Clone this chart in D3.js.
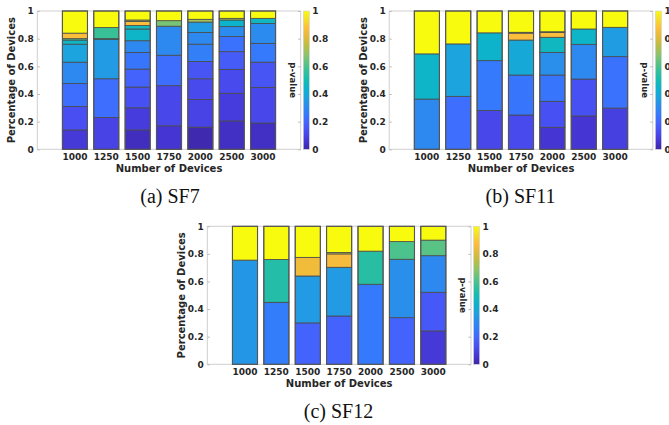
<!DOCTYPE html>
<html>
<head>
<meta charset="utf-8">
<script src="https://cdn.jsdelivr.net/npm/d3@7"></script>
<style>
  html, body { margin: 0; padding: 0; background: #fff; }
  svg { display: block; }
  .tick text, .lbl { font-family: "DejaVu Sans", sans-serif; font-weight: bold; fill: #262626; }
  .cap { font-family: "Liberation Serif", "Times New Roman", serif; fill: #111; }
</style>
</head>
<body>
<svg id="chart" width="669" height="425"></svg>
<script>
// ---------------- DATA ----------------
const categories = ["1000", "1250", "1500", "1750", "2000", "2500", "3000"];
const yTicks = [0, 0.2, 0.4, 0.6, 0.8, 1];
const colorbarTicks = [0, 0.2, 0.4, 0.6, 0.8, 1];
const yTickLabels = ["0", "0.2", "0.4", "0.6", "0.8", "1"];

// cumulative upper bounds of each stacked segment, per bar
const sf7Bounds = [
  [0.14, 0.31, 0.475, 0.63, 0.76, 0.79, 0.80, 0.84, 1.0],
  [0.23, 0.51, 0.795, 0.80, 0.88, 1.0],
  [0.14, 0.30, 0.45, 0.58, 0.70, 0.785, 0.87, 0.895, 0.925, 0.935, 1.0],
  [0.17, 0.46, 0.68, 0.89, 0.93, 1.0],
  [0.16, 0.36, 0.51, 0.635, 0.76, 0.845, 0.92, 0.94, 1.0],
  [0.205, 0.405, 0.578, 0.706, 0.815, 0.887, 0.935, 0.947, 1.0],
  [0.19, 0.448, 0.63, 0.766, 0.91, 0.947, 1.0]
];
// p-value (colour) of each segment
const sf7PValues = [
  [0.07, 0.13, 0.22, 0.30, 0.38, 0.46, 0.60, 0.87, 1.0],
  [0.10, 0.22, 0.35, 0.50, 0.57, 1.0],
  [0.03, 0.08, 0.14, 0.19, 0.24, 0.30, 0.45, 0.48, 0.87, 0.72, 1.0],
  [0.06, 0.11, 0.22, 0.30, 0.66, 1.0],
  [0.01, 0.10, 0.12, 0.15, 0.27, 0.30, 0.35, 0.72, 1.0],
  [0.04, 0.08, 0.12, 0.17, 0.23, 0.31, 0.44, 0.72, 1.0],
  [0.04, 0.11, 0.15, 0.25, 0.31, 0.47, 1.0]
];

const sf11Bounds = [
  [0.363, 0.69, 1.0],
  [0.383, 0.762, 1.0],
  [0.281, 0.641, 0.842, 1.0],
  [0.248, 0.537, 0.79, 0.84, 0.846, 1.0],
  [0.159, 0.347, 0.537, 0.701, 0.81, 0.845, 0.85, 1.0],
  [0.241, 0.508, 0.759, 0.87, 1.0],
  [0.298, 0.67, 0.882, 1.0]
];
const sf11PValues = [
  [0.30, 0.45, 1.0],
  [0.22, 0.38, 1.0],
  [0.11, 0.25, 0.44, 1.0],
  [0.12, 0.24, 0.40, 0.87, 0.75, 1.0],
  [0.06, 0.14, 0.24, 0.32, 0.47, 0.87, 0.75, 1.0],
  [0.06, 0.14, 0.30, 0.45, 1.0],
  [0.09, 0.23, 0.36, 1.0]
];

const sf12Bounds = [
  [0.755, 1.0],
  [0.449, 0.76, 1.0],
  [0.30, 0.64, 0.775, 1.0],
  [0.35, 0.703, 0.80, 0.81, 1.0],
  [0.58, 0.82, 1.0],
  [0.338, 0.761, 0.889, 1.0],
  [0.242, 0.522, 0.787, 0.90, 1.0]
];
const sf12PValues = [
  [0.34, 1.0],
  [0.26, 0.53, 1.0],
  [0.19, 0.35, 0.85, 1.0],
  [0.19, 0.35, 0.86, 0.75, 1.0],
  [0.25, 0.54, 1.0],
  [0.19, 0.32, 0.60, 1.0],
  [0.07, 0.16, 0.30, 0.62, 1.0]
];

const captions = ["(a) SF7", "(b) SF11", "(c) SF12"];

// ---------------- COLORMAP (parula-like) ----------------
const parulaStops = ["#3e26a8", "#4536d5", "#484cf0", "#4562fc", "#3579fd", "#2b8ced",
  "#1ca3de", "#0db2cc", "#14bbb4", "#33c09a", "#5cc383", "#8ec36a", "#bbbd43",
  "#e2ba3a", "#fdbd3c", "#f5dd2a", "#f9fb0e"];
const parula = d3.piecewise(d3.interpolateRgb, parulaStops);
const colorScale = d3.scaleSequential(parula).domain([0, 1]);

// ---------------- DRAW ----------------
const svg = d3.select("#chart");
const defs = svg.append("defs");
const grad = defs.append("linearGradient").attr("id", "cbgrad")
  .attr("x1", 0).attr("y1", 1).attr("x2", 0).attr("y2", 0);
d3.range(0, 1.0001, 0.02).forEach(t => {
  grad.append("stop").attr("offset", t).attr("stop-color", colorScale(t));
});

const panels = [
  { left: 37.3, top: 11, width: 263.4, height: 138.3, bounds: sf7Bounds, pv: sf7PValues, cap: captions[0], capX: 170, capY: 203.3 },
  { left: 389.2, top: 11, width: 263.6, height: 138.3, bounds: sf11Bounds, pv: sf11PValues, cap: captions[1], capX: 520.5, capY: 203.3 },
  { left: 207.3, top: 226.3, width: 263.7, height: 138, bounds: sf12Bounds, pv: sf12PValues, cap: captions[2], capX: 338.5, capY: 418.3 }
];

panels.forEach(p => {
  const g = svg.append("g");
  const x = d3.scaleBand().domain(categories).range([p.left, p.left + p.width])
    .paddingInner(0.2).paddingOuter(0.8);
  const y = d3.scaleLinear().domain([0, 1]).range([p.top + p.height, p.top]);
  const right = p.left + p.width, bottom = p.top + p.height;

  // axes box
  g.append("rect").attr("x", p.left).attr("y", p.top).attr("width", p.width).attr("height", p.height)
    .attr("fill", "#fff").attr("stroke", "#cfcfcf").attr("stroke-width", 1);

  // y axis (left) with inward ticks
  const yAx = g.append("g").attr("transform", `translate(${p.left},0)`)
    .call(d3.axisLeft(y).tickValues(yTicks).tickFormat((d, i) => yTickLabels[i]).tickSize(-2.6).tickPadding(3.5));
  yAx.select(".domain").remove();
  yAx.selectAll(".tick line").attr("stroke", "#bdbdbd");
  yAx.selectAll(".tick text").style("font-size", "9px");
  // right inward ticks
  const yAxR = g.append("g").attr("transform", `translate(${right},0)`)
    .call(d3.axisRight(y).tickValues(yTicks).tickSize(-2.6).tickFormat(""));
  yAxR.select(".domain").remove();
  yAxR.selectAll(".tick line").attr("stroke", "#bdbdbd");

  // bars
  p.bounds.forEach((b, i) => {
    const cat = categories[i];
    b.forEach((top, j) => {
      const lo = j === 0 ? 0 : b[j - 1];
      g.append("rect")
        .attr("x", x(cat)).attr("width", x.bandwidth())
        .attr("y", y(top)).attr("height", y(lo) - y(top))
        .attr("fill", colorScale(p.pv[i][j]))
        .attr("stroke", "#4a4a4a").attr("stroke-width", 0.8);
    });
    g.append("rect")
      .attr("x", x(cat)).attr("width", x.bandwidth())
      .attr("y", y(1)).attr("height", y(0) - y(1))
      .attr("fill", "none").attr("stroke", "#555").attr("stroke-width", 1.1);
  });

  // x axis
  const xAx = g.append("g").attr("transform", `translate(0,${bottom})`)
    .call(d3.axisBottom(x).tickSize(0).tickPadding(4.6));
  xAx.select(".domain").remove();
  xAx.selectAll(".tick text").style("font-size", "9px");

  // axis titles
  g.append("text").attr("class", "lbl")
    .attr("x", (p.left + right) / 2).attr("y", bottom + 23)
    .attr("text-anchor", "middle").style("font-size", "10px").text("Number of Devices");
  g.append("text").attr("class", "lbl")
    .attr("transform", `translate(${p.left - 25.6},${(p.top + bottom) / 2}) rotate(-90)`)
    .attr("text-anchor", "middle").attr("dominant-baseline", "central")
    .style("font-size", "10px").text("Percentage of Devices");

  // colorbar
  const cbX = right + 2.6, cbW = 6;
  g.append("rect").attr("x", cbX).attr("y", p.top).attr("width", cbW).attr("height", p.height)
    .attr("fill", "url(#cbgrad)").attr("stroke", "#cfcfcf").attr("stroke-width", 0.6);
  const cbScale = d3.scaleLinear().domain([0, 1]).range([bottom, p.top]);
  const cbAx = g.append("g").attr("transform", `translate(${cbX + cbW},0)`)
    .call(d3.axisRight(cbScale).tickValues(colorbarTicks).tickFormat((d, i) => yTickLabels[i]).tickSize(0).tickPadding(3));
  cbAx.select(".domain").remove();
  cbAx.selectAll(".tick text").style("font-size", "9px");

  g.append("text").attr("class", "lbl")
    .attr("transform", `translate(${right - 8},${(p.top + bottom) / 2}) rotate(90)`)
    .attr("text-anchor", "middle").attr("dominant-baseline", "central")
    .style("font-size", "8.5px").text("p-value");

  // caption
  svg.append("text").attr("class", "cap")
    .attr("x", p.capX).attr("y", p.capY).attr("text-anchor", "middle")
    .style("font-size", "20px").text(p.cap);
});
</script>
</body>
</html>
